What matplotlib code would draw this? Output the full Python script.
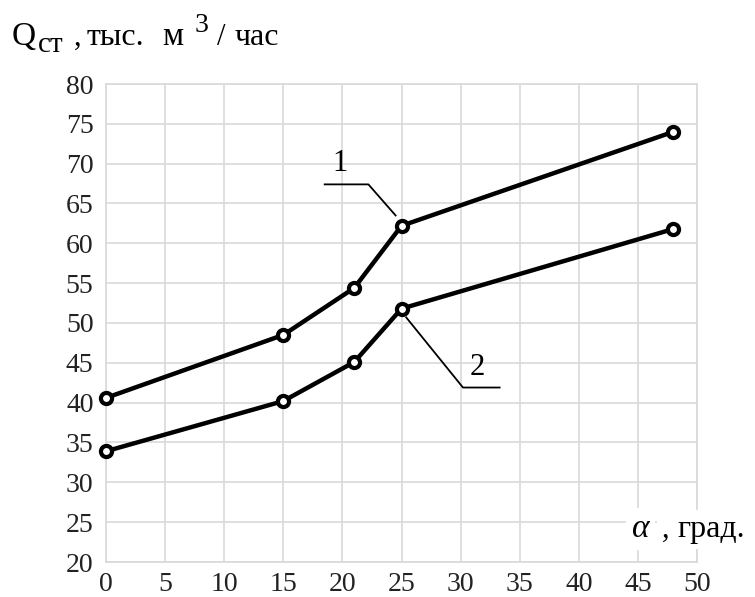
import matplotlib
matplotlib.use("Agg")
import matplotlib.pyplot as plt

plt.rcParams["font.family"] = ["Liberation Serif", "DejaVu Serif"]

# угол, град.
alpha = [0, 15, 21, 25, 48]
q_1 = [40.6, 48.5, 54.4, 62.2, 74.0]
q_2 = [33.9, 40.2, 45.1, 51.8, 61.8]

x_ticks = list(range(0, 51, 5))
y_ticks = list(range(20, 81, 5))

W, H = 755, 597
fig = plt.figure(figsize=(W / 100, H / 100), dpi=100)
ax = fig.add_axes([106 / W, 1 - 562 / H, (697 - 106) / W, (562 - 84) / H])

grid_c = "#d9d9d9"
ax.set_xlim(0, 50)
ax.set_ylim(20, 80)
ax.set_xticks(x_ticks)
ax.set_yticks(y_ticks)
ax.grid(True, color=grid_c, lw=1.2)
ax.set_axisbelow(True)
for s in ax.spines.values():
    s.set_color(grid_c)
    s.set_linewidth(1.2)
ax.tick_params(length=0, labelsize=20, colors="#222222")
ax.tick_params(axis="y", pad=9)
ax.tick_params(axis="x", pad=7)

for q in (q_1, q_2):
    ax.plot(alpha, q, color="black", lw=3.2, marker="o", ms=8,
            mfc="white", mec="black", mew=3, clip_on=False, zorder=3)

# выноски
ax.plot([18.5, 22.2, 24.5], [67.4, 67.4, 63.5], color="black", lw=1.3)
ax.text(19.8, 68.2, "1", fontsize=22, ha="center", va="bottom")
ax.plot([25.4, 30.2, 33.3], [50.7, 41.9, 41.9], color="black", lw=1.3)
ax.text(31.4, 42.6, "2", fontsize=22, ha="center", va="bottom")


def ftext(x, y, s, size, **kw):
    fig.text(x / W, 1 - y / H, s, fontsize=size, va="baseline", ha="left", **kw)


# подпись оси Y
ftext(12, 45, "Q", 24)
ftext(38, 52, "ст", 21)
ftext(74, 45, ",", 22)
ftext(87, 45, "тыс.", 23)
ftext(162, 45, "м", 24)
ftext(195, 32, "3", 20)
ftext(217, 45, "/", 22)
ftext(235, 45, "час", 23)

# подпись оси X
box = dict(fc="white", ec="none", pad=4)
ftext(632, 537, "α", 24, style="italic", bbox=box)
ftext(662, 537, ",", 22, bbox=box)
ftext(677, 537, "град.", 23, bbox=box)

fig.savefig("out.png", dpi=100)
